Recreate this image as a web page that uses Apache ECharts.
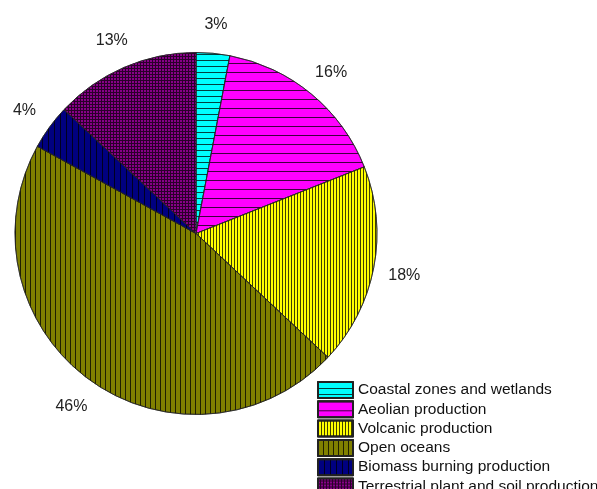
<!DOCTYPE html>
<html>
<head>
<meta charset="utf-8">
<script src="https://cdn.jsdelivr.net/npm/echarts@6/dist/echarts.min.js"></script>
<style>
  html, body { margin: 0; padding: 0; background: #fff; }
  #main { width: 597px; height: 489px; }
</style>
</head>
<body>
<div id="main"></div>
<script>
  var names = ['Coastal zones and wetlands', 'Aeolian production', 'Volcanic production',
    'Open oceans', 'Biomass burning production', 'Terrestrial plant and soil production']
  var values = [3, 16, 18, 46, 4, 13]

  var colors = ['#00ffff', '#ff00ff', '#ffff00', '#808000', '#000080', '#2a002a']
  // hatch patterns: horizontal lines, vertical lines, and purple cells on dark for the grid one
  var hatches = [
    {dashArrayX: [1, 0], dashArrayY: [1, 5]},
    {dashArrayX: [1, 0], dashArrayY: [1, 8]},
    {dashArrayX: [1, 2], dashArrayY: [1, 0]},
    {dashArrayX: [1, 4], dashArrayY: [1, 0]},
    {dashArrayX: [1, 5], dashArrayY: [1, 0]},
    {dashArrayX: [2, 1], dashArrayY: [2, 1], color: '#880088'}
  ]

  var myChart = echarts.init(document.getElementById('main'))

  var pieData = []
  var labelData = []
  for (var i = 0; i < names.length; i++) {
    var h = hatches[i]
    pieData.push({
      name: names[i],
      value: values[i],
      itemStyle: {
        color: colors[i],
        decal: {
          symbol: 'rect',
          symbolSize: 1,
          symbolKeepAspect: false,
          dashArrayX: h.dashArrayX,
          dashArrayY: h.dashArrayY,
          color: h.color || 'rgba(0,0,0,0.75)'
        }
      }
    })
    labelData.push({name: names[i], value: values[i]})
  }

  var option = {
    animation: false,
    legend: {
      orient: 'vertical',
      left: 317,
      top: 381,
      height: 200,
      padding: 0,
      itemWidth: 35,
      itemHeight: 16,
      itemGap: 1.3,
      icon: 'rect',
      selectedMode: false,
      textStyle: {
        fontFamily: 'Liberation Sans, Arial, sans-serif',
        fontSize: 15.5,
        lineHeight: 16,
        color: '#111'
      },
      data: names
    },
    series: [
      {
        name: 'sources',
        type: 'pie',
        center: [196, 233.5],
        radius: [0, 181],
        startAngle: 90,
        clockwise: true,
        silent: true,
        itemStyle: {
          borderColor: '#222',
          borderWidth: 0.7
        },
        label: {show: false},
        labelLine: {show: false},
        data: pieData
      },
      {
        // invisible ring that only carries the percentage labels
        name: 'labels',
        type: 'pie',
        center: [196, 235.5],
        radius: [199, 219],
        startAngle: 90,
        clockwise: true,
        silent: true,
        itemStyle: {color: 'rgba(0,0,0,0)'},
        label: {
          show: true,
          position: 'inside',
          formatter: '{c}%',
          fontFamily: 'Liberation Sans, Arial, sans-serif',
          fontSize: 16,
          color: '#222'
        },
        labelLine: {show: false},
        data: labelData
      }
    ]
  }
  myChart.setOption(option)
</script>
</body>
</html>
